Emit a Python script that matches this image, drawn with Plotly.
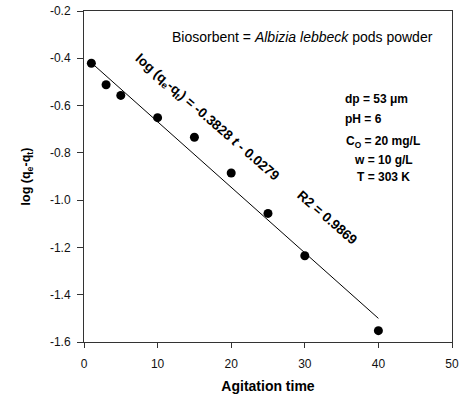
import plotly.graph_objects as go

time_min = [1, 3, 5, 10, 15, 20, 25, 30, 40]
log_qe_qt = [-0.421, -0.512, -0.557, -0.651, -0.734, -0.885, -1.056, -1.235, -1.552]
fit_x = [1, 40]
fit_y = [-0.419, -1.50]
x_ticks = [0, 10, 20, 30, 40, 50]
y_ticks = [-1.6, -1.4, -1.2, -1.0, -0.8, -0.6, -0.4, -0.2]

FONT = "Liberation Sans, Arial, sans-serif"

fig = go.Figure()
fig.add_trace(go.Scatter(x=fit_x, y=fit_y, mode="lines",
                         line=dict(color="black", width=1), showlegend=False))
fig.add_trace(go.Scatter(x=time_min, y=log_qe_qt, mode="markers",
                         marker=dict(color="black", size=9), showlegend=False))

axis_common = dict(showgrid=False, zeroline=False, showline=True, linecolor="#333",
                   linewidth=1, mirror=True, ticks="outside", automargin=False,
                   tickcolor="#333", tickfont=dict(family=FONT, size=12, color="#111"))
fig.update_xaxes(range=[0, 50], tickvals=x_ticks, ticktext=[str(v) for v in x_ticks],
                 ticklen=5, ticklabelstandoff=6,
                 title=dict(text="<b>Agitation time</b>", font=dict(family=FONT, size=14, color="black"), standoff=10),
                 **axis_common)
fig.update_yaxes(range=[-1.6, -0.2], tickvals=y_ticks, ticktext=[f"{v:.1f}" for v in y_ticks],
                 ticklen=6, ticklabelstandoff=4,
                 title=dict(text="<b>log (q<sub>e</sub>-q<sub>t</sub>)</b>", font=dict(family=FONT, size=12.5, color="black"), standoff=16),
                 **axis_common)

def ann(text, x, y, size=12, angle=0, xanchor="center"):
    fig.add_annotation(text=text, x=x, y=y, xref="paper", yref="paper", showarrow=False,
                       textangle=angle, xanchor=xanchor, yanchor="middle",
                       font=dict(family=FONT, size=size, color="black"))

ann("Biosorbent = <i>Albizia lebbeck</i> pods powder", 0.595, 0.921, size=14)
ann("<b>log (q<sub>e</sub>-q<sub>t</sub>) = -0.3828 <i>t</i> - 0.0279</b>", 0.332, 0.677, size=13.5, angle=41)
ann("<b>R2 = 0.9869</b>", 0.66, 0.375, size=13.5, angle=41)
ann("<b>dp = 53 μm</b>", 0.704, 0.734, xanchor="left")
ann("<b>pH = 6</b>", 0.704, 0.674, xanchor="left")
ann("<b>C<sub>O</sub> = 20 mg/L</b>", 0.8125, 0.604)
ann("<b>w = 10 g/L</b>", 0.8125, 0.550)
ann("<b>T = 303 K</b>", 0.8125, 0.498)

fig.update_layout(width=465, height=398, margin=dict(l=84, r=13, t=11, b=56),
                  plot_bgcolor="white", paper_bgcolor="white",
                  font=dict(family=FONT, color="black"))
fig.write_html("out.html")
